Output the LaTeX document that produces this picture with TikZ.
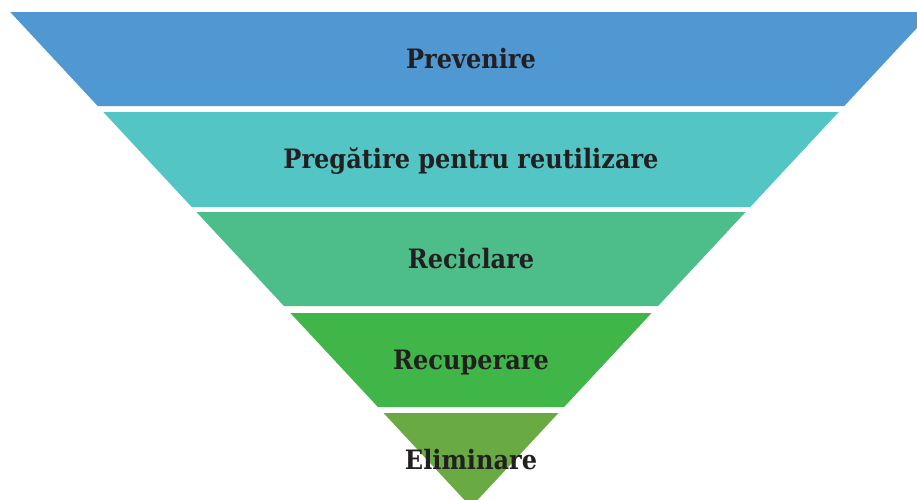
\documentclass[tikz,border=0pt]{standalone}
\usepackage{fontspec}
\newfontfamily\lblfont{DejaVu Serif Condensed}
\definecolor{c1}{HTML}{5098D2}
\definecolor{c2}{HTML}{53C5C5}
\definecolor{c3}{HTML}{4DBE8A}
\definecolor{c4}{HTML}{40B648}
\definecolor{c5}{HTML}{6AAA43}
\definecolor{txt}{HTML}{231F20}
\tikzset{
  lbl/.style={text=txt,font=\lblfont\bfseries\fontsize{26.7}{32}\selectfont,inner sep=0pt,anchor=base},
}
\begin{document}
\begin{tikzpicture}[x=1pt,y=-1pt]
\useasboundingbox (0,0) rectangle (917,499);
\clip (0,0) rectangle (917,499);
\fill[c1] (10.2,12) -- (931.8,12) -- (844.3,106) -- (97.7,106) -- cycle;
\fill[c2] (103.3,112) -- (838.7,112) -- (750.3,207) -- (191.7,207) -- cycle;
\fill[c3] (196.4,212) -- (745.6,212) -- (658.1,306) -- (283.9,306) -- cycle;
\fill[c4] (290.4,313) -- (651.6,313) -- (564.1,407) -- (377.9,407) -- cycle;
\fill[c5] (383.5,413) -- (558.5,413) -- (471,507) -- cycle;
\node[lbl] (l1) at (471,68) {Prevenire};
\node[lbl] (l2) at (471,168) {Pregătire pentru reutilizare};
\node[lbl] (l3) at (471,268) {Reciclare};
\node[lbl] (l4) at (471,369) {Recuperare};
\node[lbl] (l5) at (471,469) {Eliminare};
\end{tikzpicture}
\end{document}
